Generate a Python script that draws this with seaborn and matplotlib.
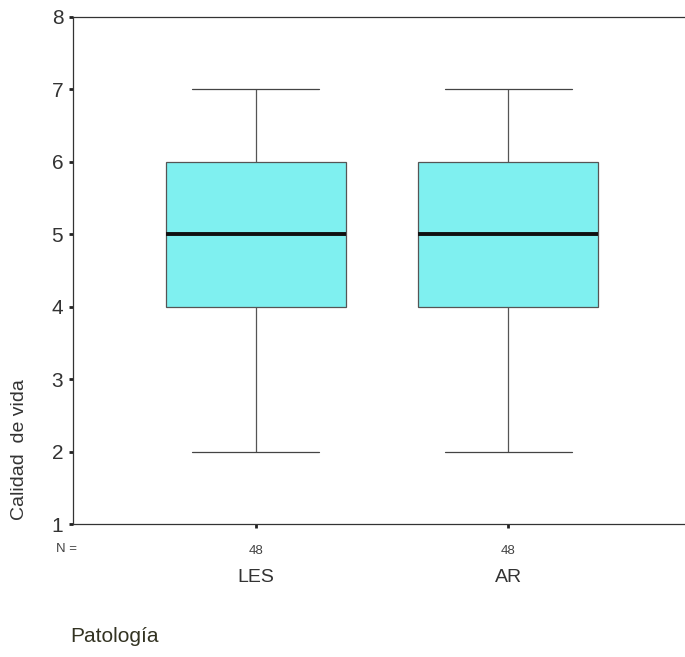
import numpy as np
import pandas as pd
import matplotlib
matplotlib.use("Agg")
import matplotlib.pyplot as plt
import seaborn as sns
from matplotlib.transforms import blended_transform_factory

# --- data (Calidad de vida scores, 48 per group) ---
categories = ["LES", "AR"]
score_levels = [2, 3, 4, 5, 6, 7]
counts_les = [3, 6, 10, 12, 10, 7]
counts_ar = [3, 6, 10, 12, 10, 7]
n_labels = ["48", "48"]
y_ticks = [1, 2, 3, 4, 5, 6, 7, 8]

df = pd.DataFrame({
    "Patología": ["LES"] * sum(counts_les) + ["AR"] * sum(counts_ar),
    "Calidad de vida": list(np.repeat(score_levels, counts_les)) + list(np.repeat(score_levels, counts_ar)),
})

sns.set_style("white")
plt.rcParams['font.family'] = ['Liberation Sans', 'DejaVu Sans']

fig = plt.figure(figsize=(6.85, 6.57), dpi=100)
ax = fig.add_axes([73 / 685, 133 / 657, 618 / 685, 507 / 657])

sns.boxplot(data=df, x="Patología", y="Calidad de vida", order=categories, ax=ax,
            color="#7ff0f0", saturation=1, width=0.714, whis=1.5,
            linecolor="#555555", linewidth=0.9, fliersize=0,
            medianprops=dict(color="#111111", linewidth=2.8))

# widen caps
for line in ax.lines:
    xd = np.asarray(line.get_xdata(), dtype=float)
    yd = np.asarray(line.get_ydata(), dtype=float)
    if len(xd) == 2 and yd[0] == yd[1] and yd[0] in (2, 7):
        c = xd.mean()
        line.set_xdata([c - 0.252, c + 0.252])
        line.set_color("#444444")

ax.set_xlim(-0.726, 1.726)
ax.set_ylim(1, 8)
ax.set_yticks(y_ticks)
ax.set_yticklabels([str(t) for t in y_ticks], fontsize=15, color="#333333")
ax.set_xticks([0, 1])
ax.set_xticklabels(n_labels, fontsize=9.5, color="#444444")
ax.tick_params(axis="both", bottom=True, left=True, direction="out", length=3, width=2,
               color="#222222", pad=4)
ax.tick_params(axis="x", pad=12)

for s in ["left", "bottom", "top", "right"]:
    ax.spines[s].set_color("#333333")
    ax.spines[s].set_linewidth(0.9)

ax.set_xlabel("")
ax.set_ylabel("")

trans = blended_transform_factory(ax.transData, fig.transFigure)
for i, cat in enumerate(categories):
    ax.text(i, (657 - 578) / 657, cat, transform=trans, ha="center", va="center",
            fontsize=14, color="#333333")

fig.text(67 / 685, (657 - 549) / 657, "N =", ha="center", va="center", fontsize=9.5, color="#444444")
fig.text(70 / 685, (657 - 637) / 657, "Patología", ha="left", va="center", fontsize=15, color="#333322")
fig.text(20 / 685, (657 - 450) / 657, "Calidad  de vida", ha="center", va="center",
         rotation=90, fontsize=14, color="#333333")

fig.savefig("out.png", dpi=100)
